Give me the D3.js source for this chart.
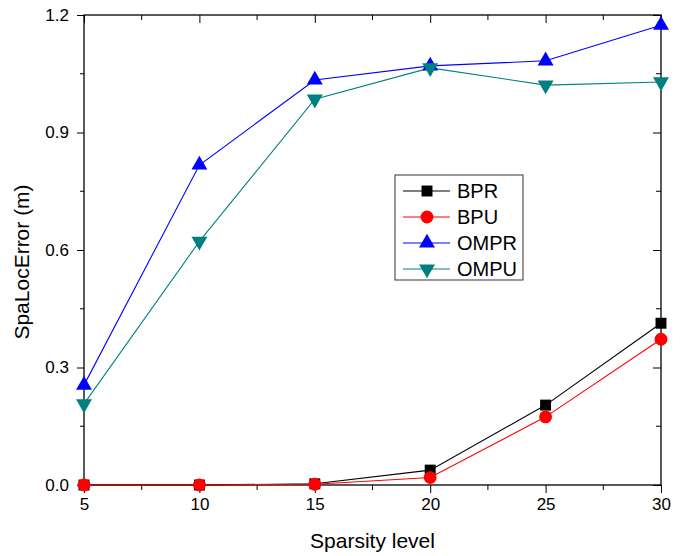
<!DOCTYPE html>
<html>
<head>
<meta charset="utf-8">
<script src="https://cdn.jsdelivr.net/npm/d3@7"></script>
<style>
body { margin: 0; background: #fff; }
text { font-family: "Liberation Sans", Arial, sans-serif; }
</style>
</head>
<body>
<script>
// chart data
var sparsity = [5, 10, 15, 20, 25, 30];
var bpr  = [0, 0, 0.003, 0.038, 0.204, 0.413];
var bpu  = [0, 0, 0.002, 0.019, 0.174, 0.372];
var ompr = [0.255, 0.817, 1.034, 1.070, 1.083, 1.174];
var ompu = [0.207, 0.622, 0.985, 1.065, 1.021, 1.029];
var yTicks = [0.0, 0.3, 0.6, 0.9, 1.2];

var svgWidth = 685, svgHeight = 556;
var plotL = 84, plotR = 661, plotT = 15, plotB = 485;

var svg = d3.select("body").append("svg")
    .attr("width", svgWidth)
    .attr("height", svgHeight);

var x = d3.scaleLinear().domain([5, 30]).range([plotL, plotR]);
var y = d3.scaleLinear().domain([0, 1.2]).range([plotB, plotT]);

var xMinor = d3.range(7.5, 30, 5);
var yMinor = d3.range(0.15, 1.2, 0.3);

// bottom axis, ticks out
var gx = svg.append("g").attr("transform", "translate(0," + plotB + ")")
    .call(d3.axisBottom(x).tickValues(sparsity).tickSize(8).tickPadding(5).tickFormat(d3.format("d")));
gx.append("g").selectAll("line").data(xMinor).enter().append("line")
    .attr("x1", x).attr("x2", x).attr("y1", 0).attr("y2", 5).attr("stroke", "#000");

// top axis, ticks in
var gt = svg.append("g").attr("transform", "translate(0," + plotT + ")")
    .call(d3.axisBottom(x).tickValues(sparsity).tickSize(8).tickFormat(""));
gt.append("g").selectAll("line").data(xMinor).enter().append("line")
    .attr("x1", x).attr("x2", x).attr("y1", 0).attr("y2", 5).attr("stroke", "#000");

// left axis, ticks out
var gy = svg.append("g").attr("transform", "translate(" + plotL + ",0)")
    .call(d3.axisLeft(y).tickValues(yTicks).tickSize(7).tickPadding(8).tickFormat(d3.format(".1f")));
gy.append("g").selectAll("line").data(yMinor).enter().append("line")
    .attr("y1", y).attr("y2", y).attr("x1", 0).attr("x2", -4).attr("stroke", "#000");

// right axis, ticks in
var gr = svg.append("g").attr("transform", "translate(" + plotR + ",0)")
    .call(d3.axisLeft(y).tickValues(yTicks).tickSize(8).tickFormat(""));
gr.append("g").selectAll("line").data(yMinor).enter().append("line")
    .attr("y1", y).attr("y2", y).attr("x1", 0).attr("x2", -5).attr("stroke", "#000");

svg.selectAll(".domain").remove();
svg.selectAll(".tick text").style("font-size", "17px").attr("fill", "#000")
    .style("font-family", "'Liberation Sans', Arial, sans-serif");

// frame
svg.append("rect")
    .attr("x", plotL).attr("y", plotT)
    .attr("width", plotR - plotL).attr("height", plotB - plotT)
    .attr("fill", "none").attr("stroke", "#000").attr("stroke-width", 1.3);

// series
var series = [
    { name: "BPR", vals: bpr, color: "#000000", shape: d3.symbolSquare, size: 120, rot: 0 },
    { name: "BPU", vals: bpu, color: "#ff0000", shape: d3.symbolCircle, size: 130, rot: 0 },
    { name: "OMPR", vals: ompr, color: "#0000ff", shape: d3.symbolTriangle, size: 110, rot: 0 },
    { name: "OMPU", vals: ompu, color: "#008080", shape: d3.symbolTriangle, size: 110, rot: 180 }
];

var line = d3.line()
    .x(function(d, i) { return x(sparsity[i]); })
    .y(function(d) { return y(d); });

series.forEach(function(s) {
    svg.append("path")
        .attr("d", line(s.vals))
        .attr("fill", "none")
        .attr("stroke", s.color)
        .attr("stroke-width", 1.1);
});

series.forEach(function(s) {
    svg.append("g").selectAll("path").data(s.vals).enter().append("path")
        .attr("d", d3.symbol().type(s.shape).size(s.size))
        .attr("transform", function(d, i) {
            return "translate(" + x(sparsity[i]) + "," + y(d) + ") rotate(" + s.rot + ")";
        })
        .attr("fill", s.color);
});

// legend
var lg = svg.append("g").attr("transform", "translate(395,175)");
lg.append("rect").attr("width", 128).attr("height", 105)
    .attr("fill", "#fff").attr("stroke", "#333").attr("stroke-width", 1);
series.forEach(function(s, i) {
    var yy = 16 + i * 26;
    lg.append("line").attr("x1", 8).attr("x2", 55).attr("y1", yy).attr("y2", yy)
        .attr("stroke", s.color).attr("stroke-width", 1.1);
    lg.append("path")
        .attr("d", d3.symbol().type(s.shape).size(s.size))
        .attr("transform", "translate(32," + yy + ") rotate(" + s.rot + ")")
        .attr("fill", s.color);
    lg.append("text").attr("x", 62).attr("y", yy + 7)
        .style("font-size", "20px").text(s.name);
});

// axis titles
svg.append("text")
    .attr("x", (plotL + plotR) / 2).attr("y", 548)
    .attr("text-anchor", "middle")
    .style("font-size", "21px")
    .text("Sparsity level");

svg.append("text")
    .attr("transform", "translate(29,262) rotate(-90)")
    .attr("text-anchor", "middle")
    .style("font-size", "21px")
    .text("SpaLocError (m)");
</script>
</body>
</html>
